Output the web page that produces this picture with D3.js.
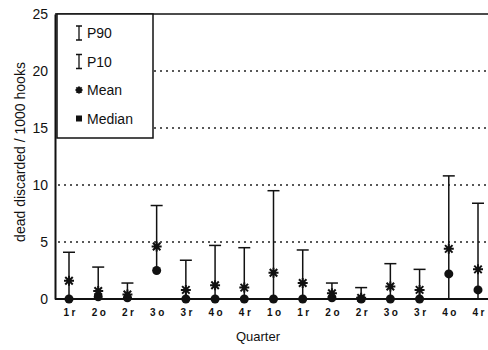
<!DOCTYPE html>
<html>
<head>
<meta charset="utf-8">
<script src="https://cdn.jsdelivr.net/npm/d3@7"></script>
<style>
  body { margin: 0; background: #fff; }
  svg { font-family: "Liberation Sans", Arial, sans-serif; }
</style>
</head>
<body>
<div id="chart"></div>
<script>
// quarter labels (two years, o / r)
const quarters = ['1r', '2o', '2r', '3o', '3r', '4o', '4r', '1o', '1r', '2o', '2r', '3o', '3r', '4o', '4r'];
const p90 = [4.1, 2.8, 1.4, 8.2, 3.4, 4.7, 4.5, 9.5, 4.3, 1.4, 1.0, 3.1, 2.6, 10.8, 8.4];
const p10 = [0, 0, 0, 2.5, 0, 0, 0, 0, 0, 0, 0, 0, 0, 0, 0];
const mean = [1.6, 0.7, 0.4, 4.6, 0.8, 1.2, 1.0, 2.3, 1.4, 0.5, 0.1, 1.1, 0.8, 4.4, 2.6];
const median = [0, 0.2, 0.1, 2.5, 0, 0, 0, 0, 0, 0.1, 0, 0, 0, 2.2, 0.8];
const yTicks = [0, 5, 10, 15, 20, 25];
const gridTicks = [5, 10, 15, 20];

const width = 488, height = 350;
const margin = { top: 14, right: 0, bottom: 50, left: 55 };

const svg = d3.select('#chart').append('svg')
    .attr('width', width)
    .attr('height', height);

const data = quarters.map((q, i) => ({ i: i, q: q, p90: p90[i], p10: p10[i], mean: mean[i], median: median[i] }));

const xScale = d3.scalePoint().domain(d3.range(quarters.length)).range([69, 478]);
const yScale = d3.scaleLinear().domain([0, 25]).range([height - margin.bottom - 1, margin.top]);

// dotted grid lines
svg.append('g')
    .selectAll('line')
    .data(gridTicks)
    .join('line')
    .attr('x1', margin.left + 3)
    .attr('x2', width)
    .attr('y1', d => yScale(d))
    .attr('y2', d => yScale(d))
    .attr('stroke', '#222')
    .attr('stroke-width', 1.3)
    .attr('stroke-dasharray', '2,4');

// top border
svg.append('line')
    .attr('x1', margin.left).attr('x2', width)
    .attr('y1', yScale(25)).attr('y2', yScale(25))
    .attr('stroke', '#111').attr('stroke-width', 1.5);

// y axis
const yAxis = svg.append('g')
    .attr('transform', `translate(${margin.left},0)`)
    .call(d3.axisLeft(yScale).tickValues(yTicks).tickSize(0).tickPadding(7));
yAxis.select('.domain').attr('stroke', '#111').attr('stroke-width', 2);
yAxis.selectAll('text').attr('font-size', 14).attr('fill', '#111');

// x axis
const xAxis = svg.append('g')
    .attr('transform', `translate(0,${yScale(0)})`)
    .call(d3.axisBottom(xScale).tickFormat(i => quarters[i]).tickSize(0).tickPadding(10));
xAxis.select('.domain').attr('d', `M${margin.left},0H${width}`).attr('stroke', '#111').attr('stroke-width', 2);
xAxis.selectAll('text').attr('font-size', 10).attr('font-weight', 'bold')
    .attr('letter-spacing', 2.5).attr('dx', 1.25).attr('fill', '#111');

// whiskers P10 - P90
const bars = svg.append('g').selectAll('g').data(data).join('g')
    .attr('transform', d => `translate(${xScale(d.i)},0)`);

bars.append('line')
    .attr('y1', d => yScale(d.p10))
    .attr('y2', d => yScale(d.p90))
    .attr('stroke', '#111').attr('stroke-width', 1.5);

bars.append('line')
    .attr('x1', -6).attr('x2', 6)
    .attr('y1', d => yScale(d.p90)).attr('y2', d => yScale(d.p90))
    .attr('stroke', '#111').attr('stroke-width', 1.5);

// median dots
bars.append('circle')
    .attr('cy', d => yScale(d.median))
    .attr('r', 4.5)
    .attr('fill', '#111');

// mean asterisks
function asterisk(g, size) {
    const s = size;
    g.append('path')
        .attr('d', `M${-s},0H${s}M0,${-s}V${s}M${-s * 0.75},${-s * 0.75}L${s * 0.75},${s * 0.75}M${-s * 0.75},${s * 0.75}L${s * 0.75},${-s * 0.75}`)
        .attr('stroke', '#111').attr('stroke-width', 2).attr('fill', 'none');
}
bars.append('g')
    .attr('transform', d => `translate(0,${yScale(d.mean)})`)
    .each(function () { asterisk(d3.select(this), 5); });

// legend
const legend = svg.append('g');
legend.append('rect')
    .attr('x', margin.left + 2).attr('y', yScale(25))
    .attr('width', 96).attr('height', 124)
    .attr('fill', '#fff').attr('stroke', '#111').attr('stroke-width', 1.5);

const legendItems = ['P90', 'P10', 'Mean', 'Median'];
legendItems.forEach((name, k) => {
    const cy = 33 + k * 28.5;
    const g = legend.append('g').attr('transform', `translate(79,${cy})`);
    if (k < 2) {
        g.append('path').attr('d', 'M-3,-7H3M0,-7V7M-3,7H3').attr('stroke', '#111').attr('stroke-width', 1.3).attr('fill', 'none');
    } else if (k === 2) {
        asterisk(g, 3.5);
    } else {
        g.append('rect').attr('x', -3).attr('y', -3).attr('width', 6).attr('height', 6).attr('fill', '#111');
    }
    g.append('text').attr('x', 8).attr('y', 5).attr('font-size', 14).attr('fill', '#111').text(name);
});

// axis titles
svg.append('text')
    .attr('transform', `translate(25,152) rotate(-90)`)
    .attr('text-anchor', 'middle')
    .attr('font-size', 14)
    .attr('fill', '#111')
    .text('dead discarded / 1000 hooks');

svg.append('text')
    .attr('x', 258).attr('y', 341)
    .attr('text-anchor', 'middle')
    .attr('font-size', 13)
    .attr('fill', '#111')
    .text('Quarter');
</script>
</body>
</html>
